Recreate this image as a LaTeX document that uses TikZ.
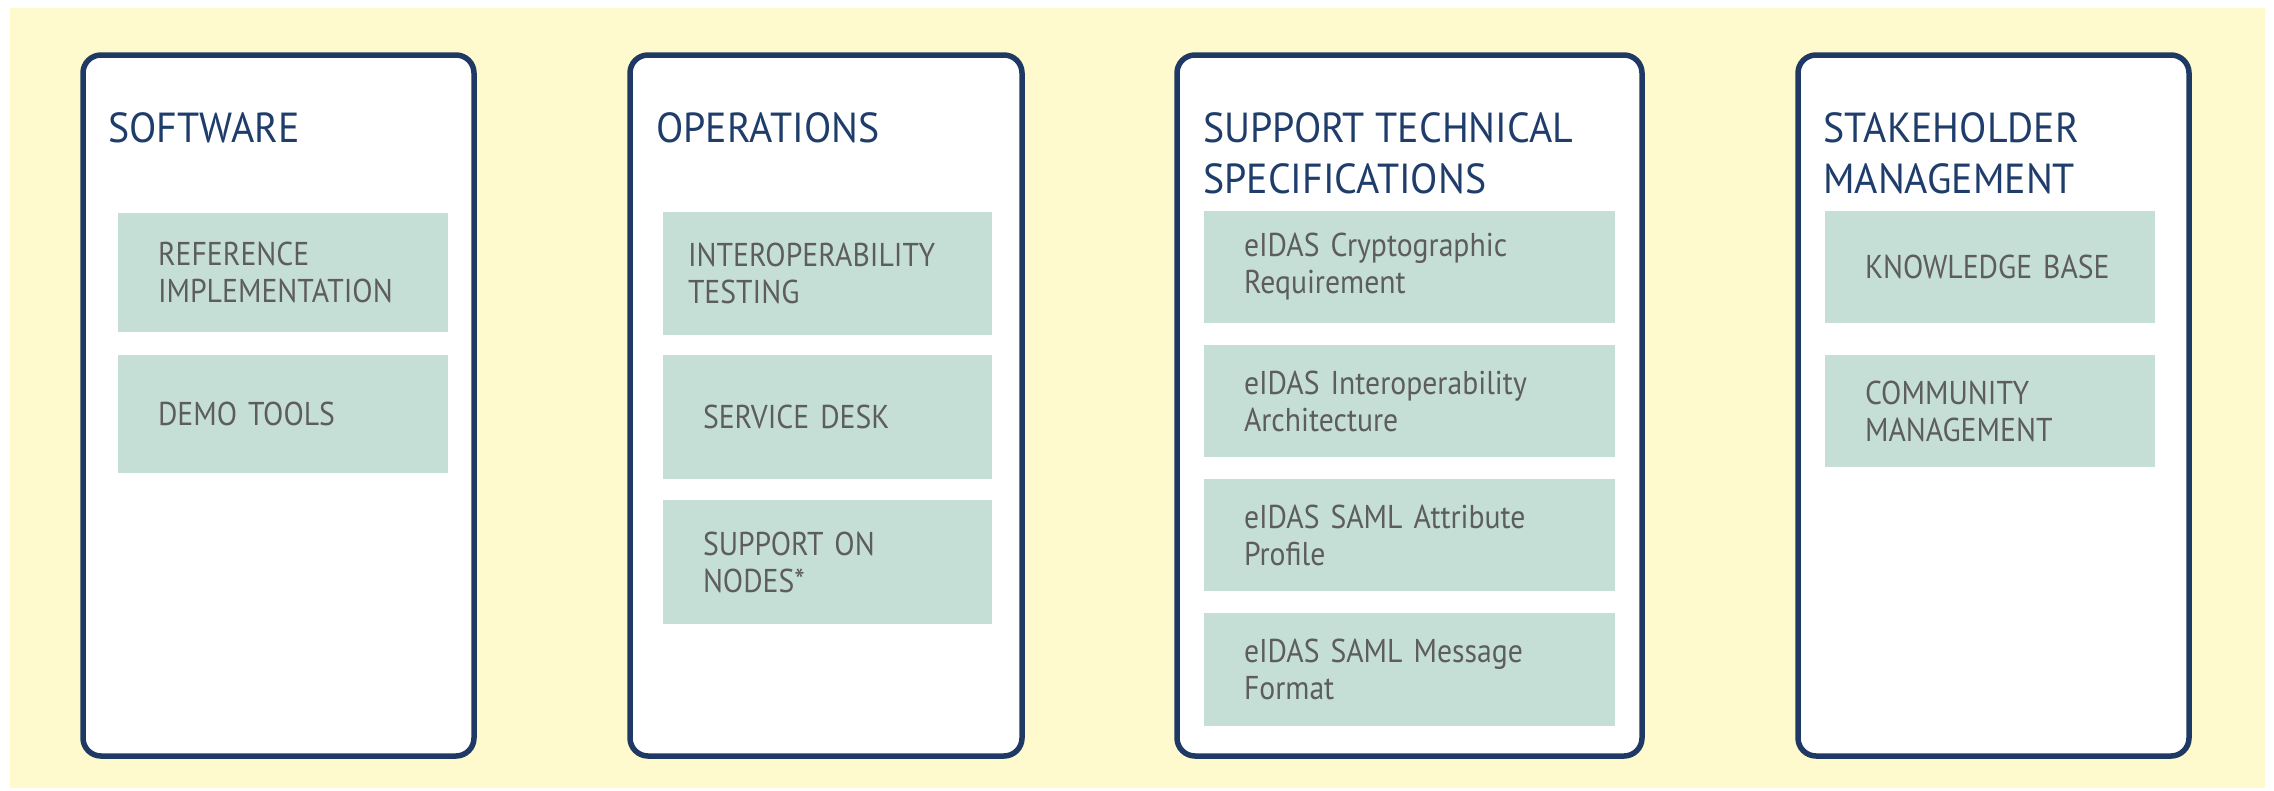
\documentclass[tikz,border=0pt]{standalone}
\usepackage{fontspec}
\setmainfont{PT Sans}
\newfontfamily\headfam{PT Sans}[FakeStretch=0.95]
\newfontfamily\itemfam{PT Sans}[FakeStretch=0.9]
\usepackage{tikz}
\definecolor{paper}{RGB}{255,250,205}
\definecolor{navy}{RGB}{30,58,100}
\definecolor{headblue}{RGB}{31,61,107}
\definecolor{mint}{RGB}{197,223,214}
\definecolor{greytxt}{RGB}{93,93,93}
\newcommand{\titlefont}{\headfam\fontsize{42}{51}\selectfont}
\newcommand{\itemfont}{\itemfam\fontsize{33}{37}\selectfont}
\tikzset{
    panel/.style={rectangle, draw=navy, fill=white, line width=5.5pt,
    	rounded corners=18pt, anchor=north west, outer sep=0pt,
    	minimum height=701pt}
}
\tikzset{
    heading/.style={text=headblue, font=\titlefont, align=left,
    	anchor=base west, inner sep=0pt}
}
\tikzset{
    item/.style={rectangle, fill=mint, text=greytxt, font=\itemfont,
    	align=left, anchor=north west, outer sep=0pt,
    	inner xsep=40pt, inner ysep=0pt}
}

\begin{document}
\begin{tikzpicture}[x=1pt, y=-1pt]
	\useasboundingbox (0,0) rectangle (2274,790);
	\fill[paper] (10,8) rectangle (2265,788);

	\node (sw) [panel, minimum width=391pt] at (83,55) {};
	\node (ops) [panel, minimum width=392pt] at (630,55) {};
	\node (spec) [panel, minimum width=465pt] at (1177,55) {};
	\node (stake) [panel, minimum width=391pt] at (1798,55) {};

	% two-line headings sit on their last baseline
	\node (swT) [heading] at (108,142) {SOFTWARE};
	\node (opsT) [heading] at (656,142) {OPERATIONS};
	\node (specT) [heading] at (1203,193) {SUPPORT TECHNICAL\\SPECIFICATIONS};
	\node (stakeT) [heading] at (1823,193) {STAKEHOLDER\\MANAGEMENT};

	\node (sw1) [item, text width=250pt, minimum height=119pt] at (118,213) {REFERENCE\\IMPLEMENTATION};
	\node (sw2) [item, text width=250pt, minimum height=118pt] at (118,355) {DEMO TOOLS};

	\node (ops1) [item, inner xsep=25pt, text width=279pt, minimum height=123pt] at (663,212) {INTEROPERABILITY\\TESTING};
	\node (ops2) [item, text width=249pt, minimum height=124pt] at (663,355) {SERVICE DESK};
	\node (ops3) [item, text width=249pt, minimum height=124pt] at (663,500) {SUPPORT ON\\NODES*};

	\node (spec1) [item, text width=331pt, minimum height=112pt] at (1204,211) {eIDAS Cryptographic\\Requirement};
	\node (spec2) [item, text width=331pt, minimum height=112pt] at (1204,345) {eIDAS Interoperability\\Architecture};
	\node (spec3) [item, text width=331pt, minimum height=112pt] at (1204,479) {eIDAS SAML Attribute\\Profile};
	\node (spec4) [item, text width=331pt, minimum height=113pt] at (1204,613) {eIDAS SAML Message\\Format};

	\node (stake1) [item, text width=250pt, minimum height=112pt] at (1825,211) {KNOWLEDGE~BASE};
	\node (stake2) [item, text width=250pt, minimum height=112pt] at (1825,355) {COMMUNITY\\MANAGEMENT};
\end{tikzpicture}
\end{document}
